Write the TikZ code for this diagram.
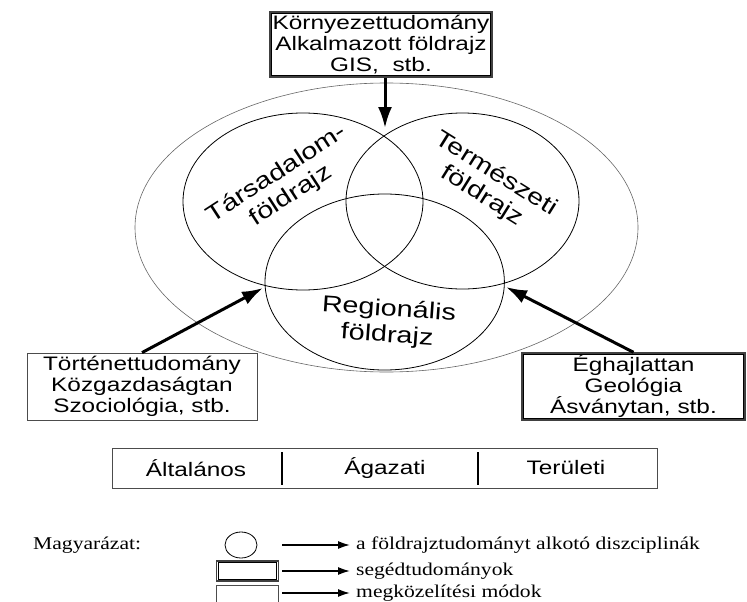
\documentclass[tikz,border=0pt]{standalone}
\usepackage{fontspec}
\setmainfont{Liberation Serif}[FakeStretch=1.2]
\newfontfamily\diagfont{Liberation Sans}[FakeStretch=1.25]
\usetikzlibrary{arrows.meta, positioning, shapes.geometric}

\tikzset{
	boxtext/.style={font=\diagfont\fontsize{19.5}{21}\selectfont, align=center, inner sep=0pt},
	plainbox/.style={boxtext, draw=black!70, line width=0.8pt},
	helperbox/.style={boxtext, draw=black!75, line width=1.4pt},
	innerline/.style={draw=black, line width=0.7pt},
	field/.style={draw=black, line width=0.8pt},
	fieldlabel/.style={font=\diagfont\fontsize{23}{26}\selectfont, align=center, inner sep=0pt},
	bigarrow/.style={-{Latex[length=21pt,width=14pt]}, line width=3pt},
	divider/.style={line width=2.4pt},
	keytext/.style={font=\fontsize{18}{20}\selectfont, anchor=west, inner sep=0pt},
	keyarrow/.style={-{Latex[length=12pt,width=8pt]}, line width=1.6pt},
}

\begin{document}
\begin{tikzpicture}[x=1pt, y=-1pt]
	\useasboundingbox (0,0) rectangle (747,602);
	
	% --- Outer frame ---
	\draw[black!60, line width=0.6pt] (386.5,227.5) ellipse [x radius=251.5, y radius=144.5];
	
	% --- The three branches ---
	\draw[field] (303,201.5) ellipse [x radius=120, y radius=88.5];
	\draw[field] (462.5,201) ellipse [x radius=116.5, y radius=88];
	\draw[field] (384.7,282) ellipse [x radius=119.7, y radius=88];
	
	\node[fieldlabel, rotate=33] (tars) at (284,185) {Társadalom-\\földrajz};
	\node[fieldlabel, rotate=-32] (term) at (489,185) {Természeti\\földrajz};
	\node[fieldlabel, rotate=-4] (regi) at (388,323) {Regionális\\földrajz};
	
	% --- Related sciences ---
	\node[helperbox, minimum width=222pt, minimum height=65pt] (env) at (381,44.5)
	{Környezettudomány\\Alkalmazott földrajz\\GIS,\ \ stb.};
	\node[plainbox, minimum width=230pt, minimum height=67pt] (hist) at (142,386.5)
	{Történettudomány\\Közgazdaságtan\\Szociológia, stb.};
	\node[helperbox, minimum width=223pt, minimum height=67pt] (clim) at (633.5,386.5)
	{Éghajlattan\\Geológia\\Ásványtan, stb.};
	
	% --- Arrows into the overlaps ---
	\coordinate (tipT) at (385,128);
	\coordinate (tipL) at (263,288);
	\coordinate (tipR) at (506,287);
	\draw[bigarrow] (env.south -| tipT) -- (tipT);
	\draw[bigarrow] (hist.north) -- (tipL);
	\draw[bigarrow] (clim.north) -- (tipR);
	
	% --- Approaches ---
	\node[plainbox, minimum width=545pt, minimum height=40pt] (views) at (384.5,468) {};
	\node[boxtext] (gen) at (196,468) {Általános};
	\node[boxtext] (sect) at (385,468) {Ágazati};
	\node[boxtext] (terr) at (566,468) {Területi};
	\draw[divider] (282,452) -- (282,485);
	\draw[divider] (478,452) -- (478,485);
	
	% --- Key ---
	\node[keytext] (keyhead) at (33,545) {Magyarázat:};
	\node[draw, ellipse, line width=0.8pt, minimum width=32pt, minimum height=26pt] (keyC) at (241,545) {};
	\node[helperbox, minimum width=62pt, minimum height=20pt] (keyH) at (247.5,571) {};
	\node[plainbox, minimum width=62pt, minimum height=22pt] (keyA) at (247.5,596) {};
	\node[keytext] (keyt1) at (356,545) {a földrajztudományt alkotó diszciplinák};
	\node[keytext] (keyt2) at (356,571) {segédtudományok};
	\node[keytext] (keyt3) at (356,593) {megközelítési módok};
	\foreach \t in {keyt1, keyt2, keyt3}
	\draw[keyarrow] ([xshift=-74pt]\t.west) -- ([xshift=-6pt]\t.west);
	
	% inner line of the double frames
	\foreach \n in {env, clim, keyH}
	\draw[innerline] ([shift={(2.4pt,-2.4pt)}]\n.north west) rectangle ([shift={(-2.4pt,2.4pt)}]\n.south east);
	
\end{tikzpicture}
\end{document}
